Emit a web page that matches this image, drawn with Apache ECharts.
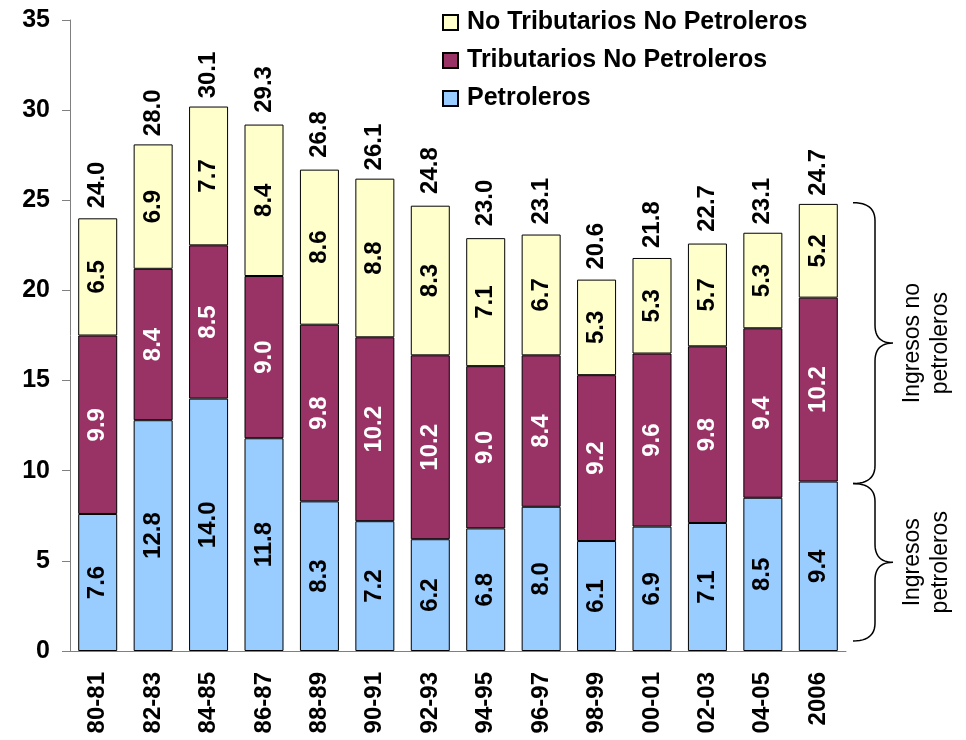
<!DOCTYPE html>
<html><head><meta charset="utf-8">
<script src="https://cdn.jsdelivr.net/npm/echarts@6/dist/echarts.min.js"></script>
<style>html,body{margin:0;padding:0;background:#fff}#c{width:966px;height:740px}</style>
</head><body><div id="c"></div>
<script>
const categories = ['80-81','82-83','84-85','86-87','88-89','90-91','92-93','94-95','96-97','98-99','00-01','02-03','04-05','2006'];
const petroleros = [7.6,12.8,14.0,11.8,8.3,7.2,6.2,6.8,8.0,6.1,6.9,7.1,8.5,9.4];
const tributarios = [9.9,8.4,8.5,9.0,9.8,10.2,10.2,9.0,8.4,9.2,9.6,9.8,9.4,10.2];
const noTributarios = [6.5,6.9,7.7,8.4,8.6,8.8,8.3,7.1,6.7,5.3,5.3,5.7,5.3,5.2];
const totals = [24.0,28.0,30.1,29.3,26.8,26.1,24.8,23.0,23.1,20.6,21.8,22.7,23.1,24.7];
const yTicks = [0,5,10,15,20,25,30,35];

const FONT = '"Liberation Sans", Arial, sans-serif';
const chart = echarts.init(document.getElementById('c'));
const lbl = (color) => ({show:true, position:'inside', rotate:90, color:color, fontFamily:FONT, fontWeight:'bold', fontSize:24, formatter: p => p.value.toFixed(1)});
const item = (color) => ({color:color, borderColor:'#000', borderWidth:1});
chart.setOption({
  animation:false,
  grid:{left:70, right:120, top:20, bottom:89},
  legend:{
    orient:'vertical', left:437, top:5, itemWidth:15, itemHeight:15, itemGap:13, icon:'rect',
    data:['No Tributarios No Petroleros','Tributarios No Petroleros','Petroleros'],
    textStyle:{fontFamily:FONT, fontWeight:'bold', fontSize:25, color:'#000', padding:[0,0,0,4]}
  },
  xAxis:{
    type:'category', data:categories, boundaryGap:true,
    axisLine:{lineStyle:{color:'#808080'}},
    axisTick:{length:8, lineStyle:{color:'#808080'}},
    axisLabel:{rotate:90, margin:21, color:'#000', fontFamily:FONT, fontWeight:'bold', fontSize:24}
  },
  yAxis:{
    type:'value', min:yTicks[0], max:yTicks[yTicks.length-1], interval:5,
    splitLine:{show:false},
    axisLine:{show:true, lineStyle:{color:'#808080'}},
    axisTick:{show:true, length:8, lineStyle:{color:'#808080'}},
    axisLabel:{margin:20, color:'#000', fontFamily:FONT, fontWeight:'bold', fontSize:25}
  },
  series:[
    {name:'Petroleros', type:'bar', stack:'s', data:petroleros, barWidth:39, itemStyle:item('#99CCFF'), label:lbl('#000')},
    {name:'Tributarios No Petroleros', type:'bar', stack:'s', data:tributarios, itemStyle:item('#993366'), label:lbl('#fff')},
    {name:'No Tributarios No Petroleros', type:'bar', stack:'s', data:noTributarios, itemStyle:item('#FFFFCC'), label:lbl('#000')},
    {name:'Total', type:'bar', data:totals, barWidth:39, barGap:'-100%', z:0,
     itemStyle:{color:'rgba(0,0,0,0)'}, silent:true,
     label:{show:true, position:'top', rotate:90, align:'left', verticalAlign:'middle', distance:10,
            color:'#000', fontFamily:FONT, fontWeight:'bold', fontSize:24, formatter:p=>p.value.toFixed(1)}}
  ]
});

// Braces beside the last bar
const last = categories.length-1;
const pTop = chart.convertToPixel({gridIndex:0}, [last, totals[last]]);
const pMid = chart.convertToPixel({gridIndex:0}, [last, petroleros[last]]);
const pBot = chart.convertToPixel({gridIndex:0}, [last, 0.5]);
const x0 = 853, xm = 875, x1 = 893, r = 18;
function quad(a, c, b, n){
  const pts = [];
  for (let i=1;i<=n;i++){ const t=i/n, u=1-t;
    pts.push([u*u*a[0]+2*u*t*c[0]+t*t*b[0], u*u*a[1]+2*u*t*c[1]+t*t*b[1]]); }
  return pts;
}
function brace(yT, yB){
  const ym = (yT+yB)/2;
  let pts = [[x0,yT]];
  pts = pts.concat(quad([x0,yT],[xm,yT],[xm,yT+r],12));
  pts.push([xm, ym-r]);
  pts = pts.concat(quad([xm,ym-r],[xm,ym],[x1,ym],12));
  pts = pts.concat(quad([x1,ym],[xm,ym],[xm,ym+r],12));
  pts.push([xm, yB-r]);
  pts = pts.concat(quad([xm,yB-r],[xm,yB],[x0,yB],12));
  return pts;
}
const yA = pTop[1]-3, yB = pMid[1]+2, yC = pBot[1]-1;
chart.setOption({graphic:[
  {type:'polyline', shape:{points:brace(yA,yB)}, style:{fill:null, stroke:'#000', lineWidth:1.5}},
  {type:'polyline', shape:{points:brace(yB,yC)}, style:{fill:null, stroke:'#000', lineWidth:1.5}},
  {type:'text', x:927, y:(yA+yB)/2, rotation:Math.PI/2, style:{text:'Ingresos no\npetroleros', align:'center', verticalAlign:'middle', font:'23px '+FONT, fill:'#000', lineHeight:28}},
  {type:'text', x:927, y:(yB+yC)/2, rotation:Math.PI/2, style:{text:'Ingresos\npetroleros', align:'center', verticalAlign:'middle', font:'23px '+FONT, fill:'#000', lineHeight:28}}
]});
</script></body></html>
